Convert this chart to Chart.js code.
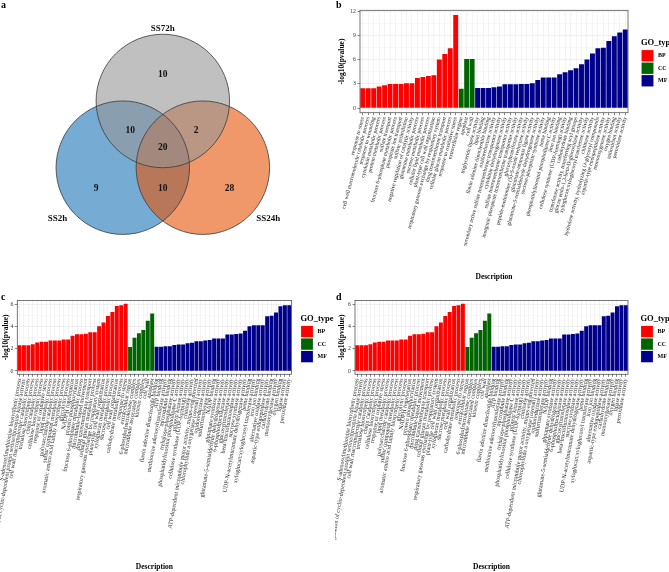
<!DOCTYPE html>
<html>
<head>
<meta charset="utf-8">
<script src="https://cdn.jsdelivr.net/npm/chart.js@4.4.1/dist/chart.umd.min.js"></script>
<style>
  body { margin: 0; background: #fff; }
  #lienzo { position: relative; width: 669px; height: 572px; overflow: hidden; background: #fff; }
  canvas { position: absolute; }
  .letra { position: absolute; font: bold 10px 'Liberation Serif', serif; line-height: 10px; color: #000; }
</style>
</head>
<body>
<div id="lienzo">
  <canvas id="venn" width="335" height="290" style="left:0;top:0"></canvas>
  <canvas id="graficoB" width="334" height="284" style="left:335px;top:0"></canvas>
  <canvas id="graficoC" width="335" height="284" style="left:0;top:290px"></canvas>
  <canvas id="graficoD" width="334" height="284" style="left:335px;top:290px"></canvas>
  <div class="letra" style="left:1px;top:0px">a</div>
  <div class="letra" style="left:336px;top:0px">b</div>
  <div class="letra" style="left:1px;top:292px">c</div>
  <div class="letra" style="left:336px;top:292px">d</div>
</div>
<script>
// Datos del diagrama de Venn
const conjuntos = ['SS2h', 'SS24h', 'SS72h'];
const centrosX = [-0.6, 0.6, 0];
const centrosY = [0, 0, 1];
const radioVenn = 1;
// regiones: solo 2h, solo 24h, solo 72h, 2h+24h, 2h+72h, 24h+72h, las tres
const conteos = [9, 28, 10, 10, 10, 2, 20];
const conteoX = [-1.0, 1.0, 0, 0, -0.49, 0.5, 0];
const conteoY = [-0.32, -0.32, 1.39, -0.32, 0.55, 0.55, 0.295];
const nombreX = [-1.58, 1.58, 0];
const nombreY = [-0.77, -0.77, 2.09];

// Panel b
const bTermsBP = ['response to stress', 'cell wall macromolecule catabolic process', 'response to wounding',
  'cytokinin metabolic process', 'protein metabolic process', 'sulfate transport',
  'fructose 6-phosphate metabolic process', 'phosphate ion transport', 'sulfate assimilation',
  'negative regulation of catalytic activity', 'glutamine metabolic process', 'sucrose metabolic process',
  'cellular lipid metabolic process', 'plant-type cell wall organization',
  'respiratory gaseous exchange by respiratory system', 'drug transmembrane transport',
  'cellular glucan metabolic process', 'response to oxidative stress'];
const bValuesBP = [2.46, 2.46, 2.46, 2.67, 2.83, 3.0, 3.0, 3.0, 3.1, 3.1, 3.75, 3.87, 4.0, 4.08, 6.04, 6.75, 7.46, 11.6];
const bTermsCC = ['extracellular region', 'apoplast', 'cell wall'];
const bValuesCC = [2.4, 6.1, 6.1];
const bTermsMF = ['triglyceride lipase activity', 'lipid binding', 'flavin adenine dinucleotide binding',
  'oxidoreductase activity', 'secondary active sulfate transmembrane transporter activity',
  'cytokinin dehydrogenase activity', 'sulfate transmembrane transporter activity',
  'inorganic phosphate transmembrane transporter activity', 'glucosyltransferase activity',
  'peptide-methionine (S)-S-oxide reductase activity', 'glutamate-ammonia ligase activity',
  'glutamate-5-semialdehyde dehydrogenase activity', 'sucrose-phosphate synthase activity', 'heme binding',
  'phosphatidylinositol phospholipase C activity', 'iron ion binding',
  'cellulose synthase (UDP-forming) activity', 'carbohydrate binding',
  'transferase activity, transferring acyl groups', 'glucan endo-1,3-beta-D-glucosidase activity',
  'xyloglucan:xyloglucosyl transferase activity', 'chitinase activity',
  'hydrolase activity, hydrolyzing O-glycosyl compounds', 'aspartic-type endopeptidase activity',
  'monooxygenase activity', 'oxygen binding', 'antioxidant activity', 'peroxidase activity'];
const bValuesMF = [2.5, 2.5, 2.5, 2.6, 2.7, 2.95, 2.95, 2.95, 3.0, 3.0, 3.1, 3.5, 3.8, 3.8, 3.8, 4.2,
  4.45, 4.7, 4.95, 5.45, 6.05, 6.8, 7.45, 7.5, 8.35, 8.95, 9.4, 9.8];
const bTicks = [0, 3, 6, 9, 12];
const bMinor = [1.5, 4.5, 7.5, 10.5];

// Paneles c y d (mismos datos)
const cTermsBP = ['S-adenosylmethionine biosynthetic process',
  'regulation of cyclin-dependent protein serine/threonine kinase activity',
  'cell wall macromolecule catabolic process', 'trehalose biosynthetic process', 'chitin catabolic process',
  'cellulose biosynthetic process', 'response to oxidative stress', 'lipid metabolic process',
  'polysaccharide catabolic process', 'sulfur compound metabolic process',
  'aromatic amino acid family biosynthetic process', 'glycolytic process', 'NADPH regeneration',
  'protein phosphorylation', 'fructose 6-phosphate metabolic process', 'microtubule-based movement',
  'drug transmembrane transport', 'cellular glucan metabolic process',
  'respiratory gaseous exchange by respiratory system', 'plant-type cell wall organization',
  'xyloglucan metabolic process', 'sucrose metabolic process', 'cell wall organization',
  'carbohydrate metabolic process', 'response to stress'];
const cValuesBP = [2.33, 2.33, 2.33, 2.42, 2.58, 2.64, 2.64, 2.76, 2.76, 2.76, 2.85, 2.85, 3.18, 3.33, 3.33,
  3.36, 3.5, 3.5, 4.06, 4.39, 4.97, 5.33, 5.88, 5.94, 6.09];
const cTermsCC = ['extracellular region', '6-phosphofructokinase complex', 'microtubule associated complex',
  'kinesin complex', 'cell wall', 'apoplast'];
const cValuesCC = [2.18, 3.0, 3.42, 3.7, 4.55, 5.2];
const cTermsMF = ['flavin adenine dinucleotide binding', 'ATP binding', 'methionine adenosyltransferase activity',
  'microtubule binding', 'trehalose-phosphatase activity', 'phosphatidylinositol phospholipase C activity',
  'protein kinase activity', 'cellulose synthase (UDP-forming) activity', 'chitinase activity',
  'ATP-dependent microtubule motor activity, minus-end-directed',
  'chlorophyllide a oxygenase [overall] activity', 'oxidoreductase activity', 'sulfurtransferase activity',
  'NADP binding', 'glutamate synthase activity', 'glutamate-5-semialdehyde dehydrogenase activity',
  '6-phosphofructokinase activity', 'glucosyltransferase activity', 'beta-fructofuranosidase activity',
  'sucrose synthase activity', 'UDP-N-acetylmuramate dehydrogenase activity', 'heme binding',
  'xyloglucan:xyloglucosyl transferase activity', 'iron ion binding', 'alternative oxidase activity',
  'aspartic-type endopeptidase activity', 'carbohydrate binding', 'monooxygenase activity', 'oxygen binding',
  'lipase activity', 'peroxidase activity'];
const cValuesMF = [2.2, 2.2, 2.25, 2.25, 2.35, 2.4, 2.4, 2.5, 2.55, 2.7, 2.7, 2.75, 2.8, 2.95, 2.95, 2.95,
  3.3, 3.3, 3.35, 3.4, 3.65, 4.05, 4.15, 4.15, 4.15, 4.95, 5.0, 5.3, 5.85, 5.95, 5.95];
const cTicks = [0, 2, 4, 6];
const cMinor = [1, 3, 5];

const goTypes = ['BP', 'CC', 'MF'];
const goColors = ['#FF0000', '#006400', '#00008B'];

Chart.defaults.font.family = "'Liberation Serif', 'Times New Roman', serif";
Chart.defaults.color = '#333';
Chart.defaults.animation = false;

// Venn con burbujas
const coloresVenn = ['rgba(27,117,183,0.6)', 'rgba(230,83,7,0.6)', 'rgba(150,150,150,0.6)'];
const vennX = [-2.44, 2.58];
const vennY = [-1.834, 2.514];
const lienzoVenn = document.getElementById('venn');
// píxeles por unidad, para pasar el radio a la escala del lienzo
const pxUnidad = lienzoVenn.width / (vennX[1] - vennX[0]);

const textosVenn = {
  id: 'textosVenn',
  afterDatasetsDraw(chart) {
    const { ctx, scales: { x, y } } = chart;
    ctx.save();
    ctx.fillStyle = '#111';
    ctx.font = "bold 9.5px 'Liberation Serif'";
    ctx.textAlign = 'center';
    ctx.textBaseline = 'middle';
    conteos.forEach((n, i) => ctx.fillText(String(n), x.getPixelForValue(conteoX[i]), y.getPixelForValue(conteoY[i])));
    ctx.font = "bold 9px 'Liberation Serif'";
    conjuntos.forEach((s, i) => ctx.fillText(s, x.getPixelForValue(nombreX[i]), y.getPixelForValue(nombreY[i])));
    ctx.restore();
  }
};

const circulo = i => [{ x: centrosX[i], y: centrosY[i], r: radioVenn * pxUnidad }];
const vennSets = conjuntos.map((s, i) => ({
  label: s,
  data: circulo(i),
  backgroundColor: coloresVenn[i],
  borderWidth: 0,
  clip: false,
  order: 3 - i
}));
const vennBordes = conjuntos.map((s, i) => ({
  label: s + ' borde',
  data: circulo(i),
  backgroundColor: 'rgba(0,0,0,0)',
  borderColor: '#3a3a3a',
  borderWidth: 0.8,
  clip: false,
  order: 0
}));

new Chart(lienzoVenn, {
  type: 'bubble',
  data: { datasets: vennSets.concat(vennBordes) },
  options: {
    responsive: false,
    events: [],
    layout: { padding: 0, autoPadding: false },
    plugins: { legend: { display: false }, tooltip: { enabled: false } },
    scales: {
      x: { type: 'linear', min: vennX[0], max: vennX[1], display: false },
      y: { type: 'linear', min: vennY[0], max: vennY[1], display: false }
    }
  },
  plugins: [textosVenn]
});

// Marco del panel y leyenda GO_type
const marco = {
  id: 'marco',
  afterDatasetsDraw(chart) {
    const { ctx, chartArea: a } = chart;
    ctx.save();
    ctx.strokeStyle = '#555';
    ctx.lineWidth = 0.8;
    ctx.strokeRect(a.left, a.top, a.width, a.height);
    ctx.restore();
  }
};

const leyendaGO = {
  id: 'leyendaGO',
  afterDraw(chart, args, opts) {
    const { ctx, chartArea: a } = chart;
    const medio = (a.top + a.bottom) / 2;
    const x0 = a.right + opts.dx;
    ctx.save();
    ctx.textBaseline = 'middle';
    ctx.fillStyle = '#000';
    ctx.font = "bold 8.5px 'Liberation Serif'";
    ctx.fillText('GO_type', x0, medio - 19);
    chart.data.datasets.forEach((ds, i) => {
      const y = medio - 12 + i * 12.5;
      ctx.fillStyle = '#f0f0f0';
      ctx.fillRect(x0, y, 13, 12.5);
      ctx.fillStyle = ds.backgroundColor;
      ctx.fillRect(x0 + 0.6, y + 0.6, 11.8, 11.3);
      ctx.fillStyle = '#000';
      ctx.font = "bold 6px 'Liberation Serif'";
      ctx.fillText(ds.label, x0 + 17, y + 6.3);
    });
    ctx.restore();
  }
};

// Función para generar cada gráfico de barras
function generarGrafico(id, grupos, valores, ticksY, menoresY, cfg) {
  const etiquetas = [].concat(...grupos);
  const total = etiquetas.length;
  let inicio = 0;
  const datasets = grupos.map((terms, g) => {
    const data = new Array(total).fill(null);
    valores[g].forEach((v, k) => { data[inicio + k] = v; });
    inicio += terms.length;
    return {
      label: goTypes[g],
      data: data,
      backgroundColor: goColors[g],
      grouped: false,
      barPercentage: 0.9,
      categoryPercentage: 1
    };
  });

  new Chart(document.getElementById(id), {
    type: 'bar',
    data: { labels: etiquetas, datasets: datasets },
    options: {
      responsive: false,
      events: [],
      layout: { padding: { top: cfg.top, right: cfg.right, left: 0, bottom: 0 } },
      plugins: {
        legend: { display: false },
        tooltip: { enabled: false },
        leyendaGO: { dx: cfg.dx }
      },
      scales: {
        x: {
          offset: true,
          border: { display: false },
          grid: { offset: false, color: '#ebebeb', lineWidth: 0.6, tickColor: '#333', tickLength: 2.5, tickWidth: 0.6 },
          ticks: { autoSkip: false, minRotation: cfg.rot, maxRotation: cfg.rot, padding: 1, color: '#222',
            font: { size: cfg.fs } },
          title: { display: true, text: 'Description', color: '#000', font: { size: 7.5, weight: 'bold' },
            padding: { top: 0, bottom: 2 } },
          afterFit: s => { s.height = cfg.xHeight; s.paddingLeft = 0; s.paddingRight = 0; }
        },
        y: {
          min: cfg.yMin,
          max: cfg.yMax,
          border: { display: false },
          afterBuildTicks: s => {
            s.ticks = ticksY.concat(menoresY).sort((p, q) => p - q).map(v => ({ value: v }));
          },
          grid: {
            color: c => (c.tick && ticksY.includes(c.tick.value)) ? '#e6e6e6' : '#f3f3f3',
            lineWidth: 0.6,
            tickColor: c => (c.tick && ticksY.includes(c.tick.value)) ? '#333' : 'rgba(0,0,0,0)',
            tickLength: 2.5,
            tickWidth: 0.6
          },
          ticks: {
            padding: 1.5,
            color: '#333',
            font: { size: 5.8 },
            callback: v => ticksY.includes(v) ? String(v) : ''
          },
          title: { display: true, text: '-log10(pvalue)', color: '#000', font: { size: 7.5, weight: 'bold' },
            padding: { top: cfg.titlePad, bottom: 0 } },
          afterFit: s => { s.width = cfg.yWidth; s.paddingTop = 0; s.paddingBottom = 0; }
        }
      }
    },
    plugins: [marco, leyendaGO]
  });
}

generarGrafico('graficoB', [bTermsBP, bTermsCC, bTermsMF], [bValuesBP, bValuesCC, bValuesMF], bTicks, bMinor,
  { top: 10.3, right: 41, yWidth: 25, xHeight: 171.3, yMin: -0.58, yMax: 12.18, rot: 75, fs: 5.6, titlePad: 2.2, dx: 13 });

generarGrafico('graficoC', [cTermsBP, cTermsCC, cTermsMF], [cValuesBP, cValuesCC, cValuesMF], cTicks, cMinor,
  { top: 10.4, right: 43.5, yWidth: 17.3, xHeight: 199.7, yMin: -0.3, yMax: 6.39, rot: 80, fs: 6, titlePad: 1.5, dx: 9 });

generarGrafico('graficoD', [cTermsBP, cTermsCC, cTermsMF], [cValuesBP, cValuesCC, cValuesMF], cTicks, cMinor,
  { top: 10.4, right: 41, yWidth: 20, xHeight: 199.7, yMin: -0.3, yMax: 6.39, rot: 80, fs: 6, titlePad: 2.2, dx: 12.5 });
</script>
</body>
</html>
